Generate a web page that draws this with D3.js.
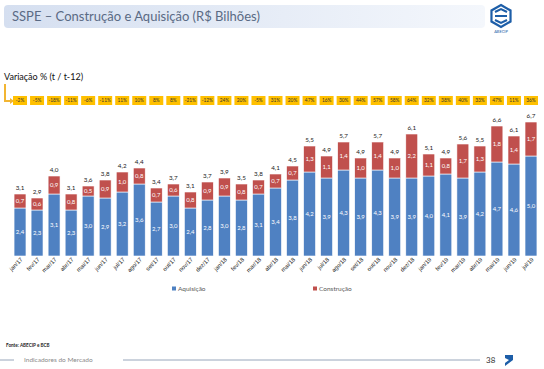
<!DOCTYPE html>
<html>
<head>
<meta charset="utf-8">
<script src="https://cdn.jsdelivr.net/npm/d3@7"></script>
<style>
  body { margin: 0; background: #fff; }
  svg { display: block; font-family: Lato, "Open Sans", sans-serif; }
</style>
</head>
<body>
<div id="chart"></div>
<script>
// months on the x axis
const months = ["jan/17","fev/17","mar/17","abr/17","mai/17","jun/17","jul/17","ago/17","set/17","out/17","nov/17","dez/17",
  "jan/18","fev/18","mar/18","abr/18","mai/18","jun/18","jul/18","ago/18","set/18","out/18","nov/18","dez/18",
  "jan/19","fev/19","mar/19","abr/19","mai/19","jun/19","jul/19"];

// R$ bilhões
const aquisicao = [2.4,2.3,3.1,2.3,3.0,2.9,3.2,3.6,2.7,3.0,2.4,2.8,3.0,2.8,3.1,3.4,3.8,4.2,3.9,4.3,3.9,4.3,3.9,3.9,4.0,4.1,3.9,4.2,4.7,4.6,5.0];
const construcao = [0.7,0.6,0.9,0.8,0.5,0.9,1.0,0.8,0.7,0.6,0.8,0.9,0.9,0.8,0.7,0.7,0.7,1.3,1.1,1.4,1.0,1.4,1.0,2.2,1.1,0.8,1.7,1.3,1.8,1.4,1.7];
const totais = [3.1,2.9,4.0,3.1,3.6,3.8,4.2,4.4,3.4,3.7,3.1,3.7,3.9,3.5,3.8,4.1,4.5,5.5,4.9,5.7,4.9,5.7,4.9,6.1,5.1,4.9,5.6,5.5,6.6,6.1,6.7];

// variação % (t / t-12)
const variacao = ["-2%","-5%","-18%","-11%","-6%","-11%","11%","10%","8%","8%","-21%","-12%",
  "24%","20%","-5%","31%","20%","47%","16%","30%","44%","57%","58%","64%",
  "32%","38%","40%","33%","47%","11%","36%"];

const seriesNames = ["Aquisição", "Construção"];
const seriesColors = ["#4f81c2", "#c0504d"];

const W = 544, H = 369;
const fmt = v => d3.format(".1f")(v).replace(".", ",");

const svg = d3.select("#chart").append("svg")
  .attr("width", W)
  .attr("height", H);

// title bar
const grad = svg.append("defs").append("linearGradient")
  .attr("id", "titleGrad");
grad.append("stop").attr("offset", "0%").attr("stop-color", "#d5dff0");
grad.append("stop").attr("offset", "100%").attr("stop-color", "#f4f7fc");

svg.append("rect")
  .attr("x", 4).attr("y", 5)
  .attr("width", 481).attr("height", 23)
  .attr("rx", 4)
  .attr("fill", "url(#titleGrad)");

svg.append("text")
  .attr("x", 12).attr("y", 21)
  .attr("font-size", 13)
  .attr("fill", "#5a6a84")
  .text("SSPE – Construção e Aquisição (R$ Bilhões)");

// logo (rough)
const logo = svg.append("g").attr("transform", "translate(501,16)");
const hex = d3.range(6).map(i => {
  const a = Math.PI / 3 * i - Math.PI / 2;
  return [11 * Math.cos(a), 11 * Math.sin(a)];
});
logo.append("polygon")
  .attr("points", hex.map(p => p.join(",")).join(" "))
  .attr("fill", "none").attr("stroke", "#1d5ea8").attr("stroke-width", 2.2);
logo.append("path")
  .attr("d", "M-6,-4 L0,-7 L6,-4 M-6,0 L6,0 M-6,4 L0,7 L6,4")
  .attr("fill", "none").attr("stroke", "#1d5ea8").attr("stroke-width", 2);
logo.append("text")
  .attr("x", 0).attr("y", 17)
  .attr("text-anchor", "middle")
  .attr("font-size", 4)
  .attr("fill", "#1d5ea8")
  .text("ABECIP");

// subtitle + arrow
svg.append("text")
  .attr("x", 4).attr("y", 80)
  .attr("font-size", 9)
  .attr("fill", "#111")
  .text("Variação % (t / t-12)");

svg.append("path")
  .attr("d", "M5,84 L5,101 L11,101")
  .attr("fill", "none")
  .attr("stroke", "#f2b533")
  .attr("stroke-width", 2);
svg.append("path")
  .attr("d", "M10,98 L14,101 L10,104 Z")
  .attr("fill", "#f2b533");

// scales
const x = d3.scaleBand()
  .domain(months)
  .range([11.5, 539.5])
  .paddingInner(0.3)
  .paddingOuter(0.15);

const y = d3.scaleLinear()
  .domain([0, 7])
  .range([256, 116]);

const rows = months.map((m, i) => ({ mes: m, "Aquisição": aquisicao[i], "Construção": construcao[i] }));
const stacked = d3.stack().keys(seriesNames)(rows);

// yellow variation boxes
const boxes = svg.append("g").selectAll("g")
  .data(months)
  .join("g")
  .attr("transform", d => `translate(${x(d) + x.bandwidth() / 2},100.5)`);
boxes.append("rect")
  .attr("x", -7).attr("y", -4.5)
  .attr("width", 14).attr("height", 9)
  .attr("fill", "#ffc000");
boxes.append("text")
  .attr("text-anchor", "middle")
  .attr("dy", "0.35em")
  .attr("font-size", 4.8)
  .attr("fill", "#333")
  .text((d, i) => variacao[i]);

// bars
const layer = svg.append("g").selectAll("g")
  .data(stacked)
  .join("g")
  .attr("fill", (d, i) => seriesColors[i]);

layer.selectAll("rect")
  .data(d => d)
  .join("rect")
  .attr("x", d => x(d.data.mes))
  .attr("y", d => y(d[1]))
  .attr("width", x.bandwidth())
  .attr("height", d => y(d[0]) - y(d[1]))
  .attr("stroke", "#fff")
  .attr("stroke-width", 0.6);

layer.selectAll("text")
  .data(d => d)
  .join("text")
  .attr("x", d => x(d.data.mes) + x.bandwidth() / 2)
  .attr("y", d => (y(d[0]) + y(d[1])) / 2)
  .attr("dy", "0.35em")
  .attr("text-anchor", "middle")
  .attr("font-size", 6)
  .attr("fill", "#fff")
  .text(d => fmt(d[1] - d[0]));

// totals
svg.append("g").selectAll("text")
  .data(months)
  .join("text")
  .attr("x", d => x(d) + x.bandwidth() / 2)
  .attr("y", (d, i) => y(aquisicao[i] + construcao[i]) - 4)
  .attr("text-anchor", "middle")
  .attr("font-size", 6.3)
  .attr("fill", "#222")
  .text((d, i) => fmt(totais[i]));

// x axis labels
const xAxis = svg.append("g")
  .attr("transform", "translate(0,256)")
  .call(d3.axisBottom(x).tickSize(0).tickPadding(0));
xAxis.select(".domain").remove();
xAxis.selectAll("text")
  .attr("font-size", 5.8)
  .attr("fill", "#222")
  .attr("text-anchor", "end")
  .attr("dy", 0)
  .attr("transform", "translate(3,4) rotate(-45)");

// legend
const legendX = [172, 313];
const legend = svg.append("g").selectAll("g")
  .data(seriesNames)
  .join("g")
  .attr("transform", (d, i) => `translate(${legendX[i]},289)`);
legend.append("rect")
  .attr("x", 0).attr("y", -2.5)
  .attr("width", 4).attr("height", 4)
  .attr("fill", (d, i) => seriesColors[i]);
legend.append("text")
  .attr("x", 6).attr("dy", "0.3em")
  .attr("font-size", 6.5)
  .attr("fill", "#595959")
  .text(d => d);

// footer
svg.append("text")
  .attr("x", 6).attr("y", 347)
  .attr("font-size", 4.6)
  .attr("font-weight", "bold")
  .attr("fill", "#222")
  .text("Fonte: ABECIP e BCB");

svg.append("line")
  .attr("x1", 0).attr("x2", 14).attr("y1", 360).attr("y2", 360)
  .attr("stroke", "#7f8fa9").attr("stroke-width", 0.8);
svg.append("text")
  .attr("x", 24).attr("y", 362)
  .attr("font-size", 6.5)
  .attr("fill", "#8a8a8a")
  .text("Indicadores do Mercado");
svg.append("line")
  .attr("x1", 123).attr("x2", 480).attr("y1", 360).attr("y2", 360)
  .attr("stroke", "#7f8fa9").attr("stroke-width", 0.8);
svg.append("text")
  .attr("x", 486).attr("y", 363)
  .attr("font-size", 8)
  .attr("fill", "#333")
  .text("38");
svg.append("path")
  .attr("d", "M505,355 L513,355 L513,360 L509,363 L505,366 L505,363 L509,360 L505,358 Z")
  .attr("fill", "#1d5ea8");
</script>
</body>
</html>
